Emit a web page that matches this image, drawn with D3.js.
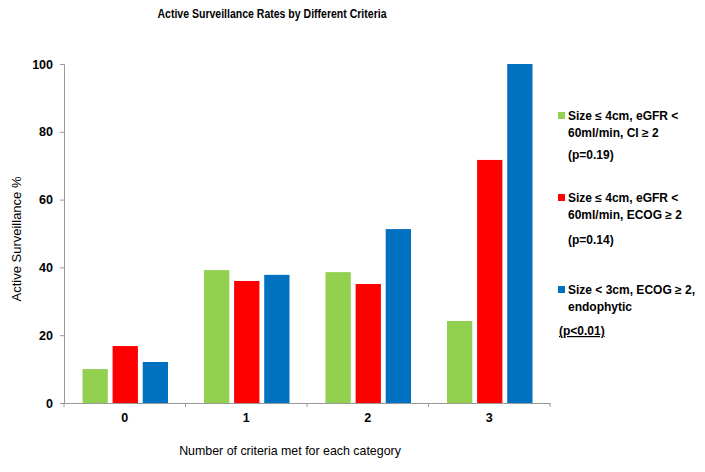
<!DOCTYPE html>
<html><head><meta charset="utf-8">
<script src="https://cdn.jsdelivr.net/npm/d3@7"></script>
<style>body{margin:0;background:#fff;font-family:Arial,"Liberation Sans",sans-serif}</style>
</head><body>
<svg id="chart" width="705" height="472"></svg>
<script>
const categories = ["0","1","2","3"];
const seriesNames = ["s1","s2","s3"];
const green = [10, 39.2, 38.6, 24.2];
const red = [16.8, 36, 35.1, 71.7];
const blue = [12.1, 37.8, 51.3, 100];
const yTicks = [0,20,40,60,80,100];
const colors = ["#92D050","#FF0000","#0070C0"];
const legendLines = [
  ["Size \u2264 4cm, eGFR <","60ml/min, CI \u2265 2"],
  ["Size \u2264 4cm, eGFR <","60ml/min, ECOG \u2265 2"],
  ["Size < 3cm, ECOG \u2265 2,","endophytic"]
];
const pLabels = ["(p=0.19)","(p=0.14)","(p<0.01)"];

(function(){
const svg = d3.select("#chart");
const mLeft = 64, mRight = 550, mTop = 64, mBottom = 403;
const x = d3.scaleBand().domain(categories).range([mLeft,mRight]).paddingInner(0).paddingOuter(0);
const xs = d3.scaleBand().domain(seriesNames).range([18.5, x.bandwidth()-17.5]).paddingInner(0.16);
const y = d3.scaleLinear().domain([0,100]).range([mBottom,mTop]);
const data = [green, red, blue];

categories.forEach((c,i)=>{
  seriesNames.forEach((s,j)=>{
    svg.append("rect")
      .attr("x", x(c)+xs(s)).attr("width", xs.bandwidth())
      .attr("y", y(data[j][i])).attr("height", mBottom - y(data[j][i]))
      .attr("fill", colors[j]);
  });
});

const ya = svg.append("g").attr("transform",`translate(${mLeft},0)`)
  .call(d3.axisLeft(y).tickValues(yTicks).tickSize(4).tickPadding(7));
ya.select(".domain").attr("stroke","#999");
ya.selectAll(".tick line").attr("stroke","#999");
ya.selectAll("text").attr("font-size",12.5).attr("font-weight","bold").attr("fill","#000")
  .attr("font-family","Arial, Liberation Sans, sans-serif");

const xa = svg.append("g").attr("transform",`translate(0,${mBottom})`)
  .call(d3.axisBottom(x).tickSize(0).tickPadding(10));
xa.select(".domain").attr("stroke","#999");
xa.selectAll("text").attr("font-size",12.5).attr("font-weight","bold").attr("fill","#000")
  .attr("font-family","Arial, Liberation Sans, sans-serif");
const bounds = categories.map(c=>x(c)).concat([mRight]);
xa.selectAll(".bt").data(bounds).enter().append("line")
  .attr("x1",d=>d).attr("x2",d=>d).attr("y1",0).attr("y2",4).attr("stroke","#999");

svg.append("text").attr("x",272).attr("y",18).attr("text-anchor","middle")
  .attr("font-size",12).attr("font-weight","bold")
  .attr("textLength",229).attr("lengthAdjust","spacingAndGlyphs")
  .text("Active Surveillance Rates by Different Criteria");
svg.append("text").attr("transform","translate(21,239) rotate(-90)").attr("text-anchor","middle")
  .attr("font-size",13).text("Active Surveillance %");
svg.append("text").attr("x",290).attr("y",455).attr("text-anchor","middle")
  .attr("font-size",12.4).text("Number of criteria met for each category");

const legY = [116, 198, 290];
const pY = [155, 240, 331];
legendLines.forEach((lines,i)=>{
  svg.append("rect").attr("x",558).attr("y",legY[i]-4).attr("width",7).attr("height",7).attr("fill",colors[i]);
  lines.forEach((t,k)=>{
    svg.append("text").attr("x",568).attr("y",legY[i]+4+k*17).attr("font-size",12)
      .attr("font-weight","bold").text(t);
  });
  const pt = svg.append("text").attr("x", i===2 ? 559 : 568).attr("y",pY[i]+4).attr("font-size",12)
    .attr("font-weight","bold").text(pLabels[i]);
  if(i===2) pt.attr("text-decoration","underline");
});
})();
</script>
</body></html>
